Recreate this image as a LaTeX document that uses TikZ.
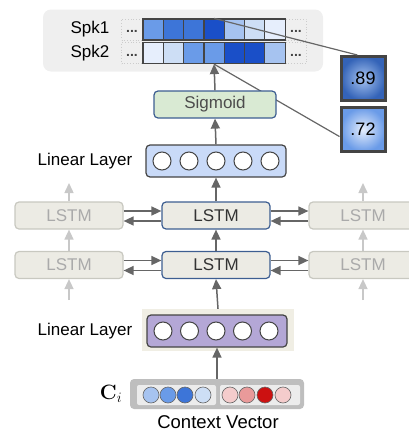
\documentclass[tikz,border=0pt]{standalone}
\usepackage{amsmath}
\usepackage[no-math]{fontspec}
\setmainfont{Liberation Sans}
\usetikzlibrary{arrows.meta, positioning, calc}
\definecolor{cdark}{RGB}{68,68,68}
\definecolor{carrow}{RGB}{102,102,102}
\definecolor{cfaint}{RGB}{200,200,200}
\definecolor{panelgray}{RGB}{239,239,239}
\definecolor{lstmfill}{RGB}{236,235,228}
\definecolor{lstmline}{RGB}{200,200,192}
\definecolor{lstmtext}{RGB}{170,170,170}
\definecolor{cblueline}{RGB}{61,94,145}
\definecolor{sigfill}{RGB}{217,234,211}
\definecolor{linblue}{RGB}{201,218,248}
\definecolor{linpurple}{RGB}{180,167,214}
\definecolor{linbg}{RGB}{240,238,228}
\definecolor{ctxout}{RGB}{190,190,190}
\definecolor{ctxin}{RGB}{236,236,236}
\definecolor{h0}{RGB}{230,238,252}
\definecolor{h1}{RGB}{205,222,245}
\definecolor{h2}{RGB}{166,195,240}
\definecolor{h3}{RGB}{106,155,232}
\definecolor{h4}{RGB}{61,117,216}
\definecolor{h5}{RGB}{26,79,200}
\definecolor{r1}{RGB}{244,204,204}
\definecolor{r2}{RGB}{233,154,154}
\definecolor{r3}{RGB}{204,17,17}
\tikzset{
  lbl/.style={font=\fontsize{17}{20}\selectfont, inner sep=0pt},
  cell/.style={
    rectangle, draw=cdark, line width=1.2pt,
    minimum width=20.3pt, minimum height=21pt, inner sep=0pt
  },
  gapbox/.style={
    rectangle, draw=gray!40, dotted, line width=0.8pt,
    minimum width=21pt, minimum height=21pt, inner sep=0pt,
    font=\fontsize{14}{14}\selectfont\bfseries, text=cdark
  },
  score/.style={
    rectangle, draw=cdark, line width=3pt,
    minimum size=44pt, inner sep=0pt,
    font=\fontsize{18}{20}\selectfont
  },
  lstm/.style={
    rectangle, rounded corners=4pt,
    fill=lstmfill, draw=cblueline, line width=1.2pt,
    minimum width=108pt, minimum height=27pt,
    font=\fontsize{17}{20}\selectfont, text=black!80
  },
  lstmF/.style={
    lstm, draw=lstmline, text=lstmtext
  },
  layer/.style={
    rectangle, rounded corners=4pt,
    draw=cdark, line width=1.2pt,
    minimum width=140pt, minimum height=32pt
  },
  unit/.style={
    circle, draw=cdark, fill=white, line width=1pt,
    minimum size=18pt, inner sep=0pt
  },
  dotc/.style={
    circle, draw=carrow, line width=0.6pt,
    minimum size=16pt, inner sep=0pt, fill=#1
  },
  link/.style={line width=1.2pt, color=carrow},
  arr/.style={-{Triangle[length=10pt,width=9pt]}, line width=1.5pt, color=#1},
  arr/.default=carrow
}

\begin{document}
\begin{tikzpicture}[x=1pt, y=-1pt]

    \useasboundingbox (0,0) rectangle (408,434);

    %% ---- Output: speaker activity grid ------------------------------
    \node[rectangle, rounded corners=8pt, fill=panelgray,
          minimum width=280pt, minimum height=62pt] (panel) at (183,40.5) {};
    \node[lbl] (spk1) at (90,29) {Spk1};
    \node[lbl] (spk2) at (90,53) {Spk2};

    \node[gapbox] (lg1) at (132,29.5) {\raisebox{-6pt}{...}};
    \node[gapbox] (lg2) at (132,53) {\raisebox{-6pt}{...}};
    \node[gapbox] (rg1) at (296,29.5) {\raisebox{-6pt}{...}};
    \node[gapbox] (rg2) at (296,53) {\raisebox{-6pt}{...}};

    \foreach \c [count=\i] in {h3,h4,h4,h5,h2,h1,h0}
      \node[cell, fill=\c] (r1c\i) at ({143+20.3*(\i-0.5)},29.5) {};
    \foreach \c [count=\i] in {h0,h1,h3,h3,h5,h5,h2}
      \node[cell, fill=\c] (r2c\i) at ({143+20.3*(\i-0.5)},53) {};

    %% ---- Zoomed scores ----------------------------------------------
    \node[score, inner color=h2, outer color=h4!85!black] (v89) at (363,78.5) {.89};
    \node[score, inner color=h0, outer color=h3] (v72) at (363,129.5) {.72};

    \draw[link] (r1c4.north) -- ($(v89.north west)!0.38!(v89.north east)$);
    \draw[link] (r2c4.south) -- ($(v72.north west)!0.65!(v72.south west)$);

    %% ---- Sigmoid + upper linear layer -------------------------------
    \node[rectangle, rounded corners=4pt, fill=sigfill, draw=cblueline,
          line width=1.2pt, minimum width=122pt, minimum height=27pt,
          font=\fontsize{17}{20}\selectfont, text=black!70]
      (sig) at (215,104.5) {Sigmoid};

    \node[layer, fill=linblue] (lin2) at (216,161) {};
    \foreach \k in {1,...,5}
      \node[unit] (u2\k) at ({162+27*(\k-1)},161) {};
    \node[lbl, left=13pt of lin2] (lin2lbl) {Linear Layer};

    %% ---- LSTM stack -------------------------------------------------
    \node[lstm]  (lu)  at (216,215.5) {LSTM};
    \node[lstm]  (ll)  at (216,265)   {LSTM};
    \node[lstmF] (lul) at (69,215.5)  {LSTM};
    \node[lstmF] (lll) at (69,265)    {LSTM};
    \node[lstmF] (lur) at (363,215.5) {LSTM};
    \node[lstmF] (llr) at (363,265)   {LSTM};

    \foreach \a/\b in {lul/lu, lll/ll, lu/lur, ll/llr}{
      \draw[arr] ([yshift=4.5pt]\a.east) -- ([yshift=4.5pt]\b.west);
      \draw[arr] ([yshift=-5.5pt]\b.west) -- ([yshift=-5.5pt]\a.east);
    }

    %% faint neighbour arrows
    \foreach \n/\x in {l/69, r/363}{
      \coordinate (top\n) at (\x,183);
      \coordinate (bot\n) at (\x,300);
      \draw[arr=cfaint] (lu\n.north) -- (top\n);
      \draw[arr=cfaint] (ll\n.north) -- (lu\n.south);
      \draw[arr=cfaint] (bot\n) -- (ll\n.south);
    }

    %% ---- Lower linear layer -----------------------------------------
    \node[rectangle, fill=linbg, minimum width=152pt, minimum height=42pt]
      (lin1bg) at (218,330) {};
    \node[layer, fill=linpurple] (lin1) at (217,331) {};
    \foreach \k in {1,...,5}
      \node[unit] (u1\k) at ({163+26.5*(\k-1)},331) {};
    \node[lbl, left=14pt of lin1] (lin1lbl) {Linear Layer};

    %% ---- Context vector ---------------------------------------------
    \node[rectangle, rounded corners=4pt, fill=ctxout,
          minimum width=174pt, minimum height=30pt] (ctx) at (217,394) {};
    \node[rectangle, rounded corners=2pt, fill=ctxin,
          minimum width=79pt, minimum height=20pt] (ctxl) at (176.5,395) {};
    \node[rectangle, rounded corners=2pt, fill=ctxin,
          minimum width=80pt, minimum height=20pt] (ctxr) at (260,395) {};
    \foreach \c/\x [count=\i] in {h2/151, h3/168, h4/185, h1/203}
      \node[dotc=\c] (cb\i) at (\x,395) {};
    \foreach \c/\x [count=\i] in {r1/230, r2/247, r3/265, r1/283}
      \node[dotc=\c] (cr\i) at (\x,395) {};
    \node[font=\fontsize{20}{24}\selectfont, inner sep=0pt] (ci) at (111,394) {$\mathbf{C}_i$};
    \node[font=\fontsize{18.5}{22}\selectfont, inner sep=0pt] (ctxlbl) at (218,422) {Context Vector};

    %% ---- Main data path ---------------------------------------------
    \draw[arr] (ctx.north)    -- (lin1.south);
    \draw[arr] (lin1bg.north) -- (ll.south);
    \draw[arr] (ll.north)     -- (lu.south);
    \draw[arr] (lu.north)     -- (lin2.south);
    \draw[arr] (lin2.north)   -- (sig.south);
    \draw[arr] (sig.north)    -- (r2c4.south);

  \end{tikzpicture}
\end{document}
